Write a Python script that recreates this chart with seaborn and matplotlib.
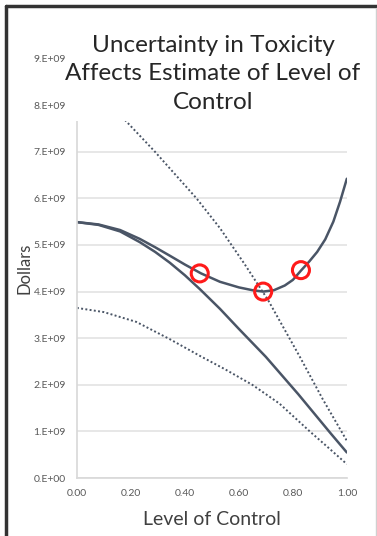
import numpy as np
import pandas as pd
import seaborn as sns
import matplotlib.pyplot as plt
from matplotlib.patches import Rectangle

# values (dollars, in units of 1e9)
x_total = [0.0, 0.08, 0.16, 0.233, 0.29, 0.344, 0.4, 0.46, 0.53, 0.6, 0.65, 0.69, 0.73, 0.77,
           0.8, 0.83, 0.86, 0.89, 0.92, 0.95, 0.975, 1.0]
y_total = [5.49, 5.44, 5.32, 5.13, 4.95, 4.77, 4.58, 4.39, 4.21, 4.09, 4.03, 4.0, 4.03, 4.13,
           4.25, 4.45, 4.64, 4.85, 5.12, 5.5, 5.93, 6.42]

x_mid = [0.0, 0.08, 0.16, 0.233, 0.29, 0.344, 0.4, 0.456, 0.53, 0.6, 0.64, 0.7, 0.76, 0.82,
         0.88, 0.94, 1.0]
y_mid = [5.49, 5.43, 5.29, 5.06, 4.85, 4.62, 4.35, 4.05, 3.63, 3.2, 2.96, 2.6, 2.2, 1.8,
         1.38, 0.96, 0.55]

x_high = [0.178, 0.289, 0.443, 0.53, 0.62, 0.708, 0.826, 0.91, 1.0]
y_high = [7.68, 7.0, 6.0, 5.36, 4.6, 3.82, 2.6, 1.7, 0.8]

x_low = [0.0, 0.1, 0.22, 0.344, 0.456, 0.55, 0.65, 0.75, 0.863, 0.93, 1.0]
y_low = [3.65, 3.56, 3.35, 2.98, 2.62, 2.33, 2.0, 1.6, 1.0, 0.66, 0.3]

x_opt = [0.455, 0.69, 0.83]
y_opt = [4.39, 4.0, 4.46]

x_ticks = [0.0, 0.2, 0.4, 0.6, 0.8, 1.0]
y_ticks = [0, 1, 2, 3, 4, 5, 6, 7, 8, 9]

line_col = "#4a5566"
scale = 1e9

sns.set_theme(style="white")
plt.rcParams['font.family'] = ['Lato', 'DejaVu Sans']

fig = plt.figure(figsize=(3.77, 5.36), dpi=100)
ax = fig.add_axes([0.204, 0.108, 0.716, 0.783])

sns.lineplot(x=x_total, y=np.array(y_total) * scale, ax=ax, color=line_col, lw=1.8, sort=False)
sns.lineplot(x=x_mid, y=np.array(y_mid) * scale, ax=ax, color=line_col, lw=1.8, sort=False)
sns.lineplot(x=x_high, y=np.array(y_high) * scale, ax=ax, color=line_col, lw=1.4, ls=(0, (1, 1.2)), sort=False)
sns.lineplot(x=x_low, y=np.array(y_low) * scale, ax=ax, color=line_col, lw=1.4, ls=(0, (1, 1.2)), sort=False)
sns.scatterplot(x=x_opt, y=np.array(y_opt) * scale, ax=ax, s=150, facecolor="none",
                edgecolor="#ff1a1a", linewidth=2.2, zorder=5)

ax.set_xlim(0, 1)
ax.set_ylim(0, 9 * scale)
ax.set_xticks(x_ticks)
ax.set_xticklabels([f"{v:.2f}" for v in x_ticks])
ax.set_yticks([v * scale for v in y_ticks])
ax.set_yticklabels([f"{v}.E+{'00' if v == 0 else '09'}" for v in y_ticks])
ax.tick_params(axis="y", labelsize=7.5, colors="#595959", length=0, pad=8)
ax.tick_params(axis="x", labelsize=7.5, colors="#595959", length=0, pad=8)
ax.yaxis.grid(True, color="#e3e3e3", lw=1.2)
ax.set_axisbelow(True)

for side in ["top", "right"]:
    ax.spines[side].set_visible(False)
ax.spines["left"].set_color("#d9d9d9")
ax.spines["bottom"].set_color("#d9d9d9")
ax.spines["left"].set_bounds(0, 7.65 * scale)

# white title area covering the top of the plot
ax.add_patch(Rectangle((-0.02, 7.65 * scale), 1.04, 2 * scale, facecolor="white",
                       edgecolor="none", zorder=10, clip_on=False))

ax.set_xlabel("Level of Control", fontsize=14, color="#404040", labelpad=9)
ax.set_ylabel("Dollars", fontsize=12, color="#404040", labelpad=1)

fig.text(0.565, 0.935, "Uncertainty in Toxicity\nAffects Estimate of Level of\nControl",
         ha="center", va="top", fontsize=17.5, color="#262626", linespacing=1.45)

# screenshot frame
fig.add_artist(plt.Line2D([0.016, 0.016], [0, 0.988], color="#333333", lw=2.5))
fig.add_artist(plt.Line2D([0.016, 1.0], [0.988, 0.988], color="#333333", lw=2.5))
fig.add_artist(plt.Line2D([0.998, 0.998], [0, 0.985], color="#d0d0d0", lw=1))

fig.savefig("out.png", dpi=100)
